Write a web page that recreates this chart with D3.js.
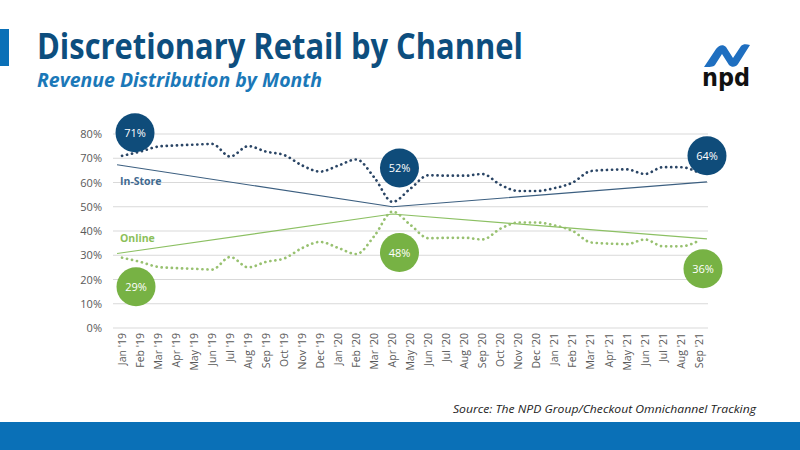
<!DOCTYPE html>
<html>
<head>
<meta charset="utf-8">
<script src="https://cdn.jsdelivr.net/npm/d3@7/dist/d3.min.js"></script>
<style>
  html, body { margin: 0; padding: 0; background: #fff; }
  svg { display: block; font-family: "Open Sans", "Noto Sans", sans-serif; }
</style>
</head>
<body>
<svg id="chart" width="800" height="450"></svg>
<script>
// ---------- DATA ----------
const months = ["Jan '19","Feb '19","Mar '19","Apr '19","May '19","Jun '19","Jul '19","Aug '19","Sep '19","Oct '19","Nov '19","Dec '19",
  "Jan '20","Feb '20","Mar '20","Apr '20","May '20","Jun '20","Jul '20","Aug '20","Sep '20","Oct '20","Nov '20","Dec '20",
  "Jan '21","Feb '21","Mar '21","Apr '21","May '21","Jun '21","Jul '21","Aug '21","Sep '21"];
const inStore = [71, 72.7, 74.8, 75.3, 75.6, 75.9, 70.7, 75, 72.7, 71.3, 67, 64.5,
  67, 69.5, 62, 52, 57.5, 63, 62.8, 62.8, 63.5, 59, 56.5, 56.5,
  57.7, 60, 64.7, 65.2, 65.4, 63.5, 66.3, 66.3, 64];
const online = [29, 27.3, 25.2, 24.7, 24.4, 24.1, 29.3, 25, 27.3, 28.7, 33, 35.5,
  33, 30.5, 38, 48, 42.5, 37, 37.2, 37.2, 36.5, 41, 43.5, 43.5,
  42.3, 40, 35.3, 34.8, 34.6, 36.5, 33.7, 33.7, 36];
const trendMonths = ["Jan '19", "Apr '20", "Sep '21"];
const trendInStore = [67, 50, 60];
const trendOnline = [31, 47, 37];
const calloutMonths = ["Jan '19", "Apr '20", "Sep '21"];
const yTicks = [0, 10, 20, 30, 40, 50, 60, 70, 80];
const seriesNames = ["In-Store", "Online"];
const title = "Discretionary Retail by Channel";
const subtitle = "Revenue Distribution by Month";
const source = "Source: The NPD Group/Checkout Omnichannel Tracking";

// ---------- LAYOUT ----------
const svg = d3.select("#chart");
const BLUE = "#0a70b7";
const NAVY = "#0f4c7a";
const GREEN = "#77b244";

// header
svg.append("rect").attr("x", 0).attr("y", 29).attr("width", 9).attr("height", 37).attr("fill", BLUE);
svg.append("text").attr("x", 37).attr("y", 59).text(title)
  .attr("font-size", 35).attr("font-weight", 700).attr("fill", "#0d4e7e")
  .attr("textLength", 486).attr("lengthAdjust", "spacingAndGlyphs");
svg.append("text").attr("x", 37).attr("y", 87).text(subtitle)
  .attr("font-size", 19).attr("font-weight", 700).attr("font-style", "italic").attr("fill", "#1b78b8")
  .attr("textLength", 285).attr("lengthAdjust", "spacingAndGlyphs");

// logo
const logo = svg.append("g");
logo.append("path")
  .attr("d", "M704,67 L716,49 C719,45 723,44 726,47 L733,58 L741,46 C743,44 746,44 750,45 L738,64 C736,67 732,68 729,65 L722,54 L715,65 C713,67 710,67 704,67 Z")
  .attr("fill", "#1f6fc0");
logo.append("text").attr("x", 726).attr("y", 86).attr("text-anchor", "middle").text("npd")
  .attr("font-family", "'DejaVu Sans', sans-serif").attr("font-size", 24).attr("font-weight", 700)
  .attr("fill", "#111").attr("textLength", 48).attr("lengthAdjust", "spacingAndGlyphs");

// scales
const x = d3.scaleBand().domain(months).range([113, 708]);
const xc = m => x(m) + x.bandwidth() / 2;
const y = d3.scaleLinear().domain([0, 80]).range([328, 134]);

// grid
const grid = svg.append("g");
grid.selectAll("line").data(yTicks).join("line")
  .attr("x1", 113).attr("x2", 708)
  .attr("y1", d => y(d)).attr("y2", d => y(d))
  .attr("stroke", "#d9d9d9").attr("stroke-width", 1);

// y axis
const yAxis = svg.append("g").attr("transform", "translate(102,0)")
  .call(d3.axisLeft(y).tickValues(yTicks).tickFormat(d => d + "%").tickSize(0).tickPadding(0));
yAxis.select(".domain").remove();
yAxis.selectAll("text").attr("font-size", 11).attr("fill", "#595959")
  .attr("font-family", "'Open Sans', sans-serif");

// x axis
const xAxis = svg.append("g").attr("transform", "translate(0,333)")
  .call(d3.axisBottom(x).tickSize(0).tickPadding(0));
xAxis.select(".domain").remove();
xAxis.selectAll("text")
  .attr("font-size", 10.5).attr("fill", "#595959").attr("font-family", "'Open Sans', sans-serif")
  .attr("transform", "rotate(-90)").attr("text-anchor", "end")
  .attr("x", 0).attr("y", 0).attr("dy", "0.35em");

// trend lines (extended slightly beyond the first/last points)
function trendPts(vals) {
  const pts = trendMonths.map((m, i) => [xc(m), y(vals[i])]);
  const ext = (a, b, d) => { const dx = b[0] - a[0], dy = b[1] - a[1]; const l = Math.hypot(dx, dy); return [a[0] - dx / l * d, a[1] - dy / l * d]; };
  pts[0] = ext(pts[0], pts[1], 5);
  const n = pts.length - 1;
  pts[n] = ext(pts[n], pts[n - 1], 8);
  return pts;
}
const line = d3.line();
svg.append("path").attr("d", line(trendPts(trendInStore))).attr("fill", "none")
  .attr("stroke", "#3c5f80").attr("stroke-width", 1.1);
svg.append("path").attr("d", line(trendPts(trendOnline))).attr("fill", "none")
  .attr("stroke", "#8cc063").attr("stroke-width", 1.1);

// dotted series
const curve = d3.line().x((d, i) => xc(months[i])).y(d => y(d)).curve(d3.curveMonotoneX);
svg.append("path").attr("d", curve(inStore)).attr("fill", "none")
  .attr("stroke", "#2a4565").attr("stroke-width", 2.7)
  .attr("stroke-dasharray", "0.1 5").attr("stroke-linecap", "round");
svg.append("path").attr("d", curve(online)).attr("fill", "none")
  .attr("stroke", "#98c170").attr("stroke-width", 2.7)
  .attr("stroke-dasharray", "0.1 5").attr("stroke-linecap", "round");

// series labels
svg.append("text").attr("x", 120).attr("y", 185).text(seriesNames[0])
  .attr("font-size", 10.5).attr("font-weight", 700).attr("fill", "#3f6a90");
svg.append("text").attr("x", 120).attr("y", 242).text(seriesNames[1])
  .attr("font-size", 10.5).attr("font-weight", 700).attr("fill", "#8cbf5a");

// callouts
const offsIn = [[13, -23], [7, -34], [8, -17]];
const offsOn = [[14, 29], [7, 41], [4, 28]];
function callouts(vals, offs, color) {
  const g = svg.append("g");
  calloutMonths.forEach((m, i) => {
    const v = vals[months.indexOf(m)];
    const cx = xc(m) + offs[i][0], cy = y(v) + offs[i][1];
    g.append("circle").attr("cx", cx).attr("cy", cy).attr("r", 19.5).attr("fill", color);
    g.append("text").attr("x", cx).attr("y", cy).attr("dy", "0.36em").attr("text-anchor", "middle")
      .attr("font-size", 11).attr("fill", "#fff").text(Math.round(v) + "%");
  });
}
callouts(inStore, offsIn, NAVY);
callouts(online, offsOn, GREEN);

// source + footer
svg.append("text").attr("x", 756).attr("y", 413).attr("text-anchor", "end").text(source)
  .attr("font-size", 11.5).attr("font-style", "italic").attr("fill", "#222")
  .attr("textLength", 303).attr("lengthAdjust", "spacingAndGlyphs");
svg.append("rect").attr("x", 0).attr("y", 422).attr("width", 800).attr("height", 28).attr("fill", BLUE);
</script>
</body>
</html>
